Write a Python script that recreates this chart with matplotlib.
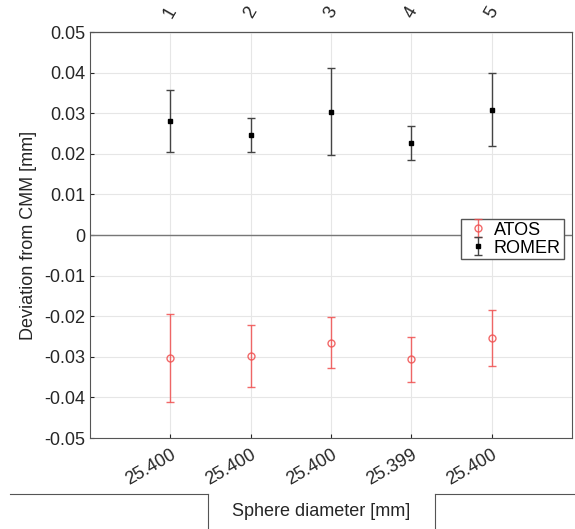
import matplotlib.pyplot as plt
from matplotlib.lines import Line2D

plt.rcParams['font.family'] = ['Liberation Sans', 'DejaVu Sans']

# Data
spheres = [1, 2, 3, 4, 5]
diameters = ["25.400", "25.400", "25.400", "25.399", "25.400"]
atos_mean = [-0.0303, -0.0298, -0.0265, -0.0306, -0.0253]
atos_err = [0.0109, 0.0076, 0.0062, 0.0056, 0.0069]
romer_mean = [0.0280, 0.0247, 0.0304, 0.0226, 0.0308]
romer_err = [0.0076, 0.0042, 0.0108, 0.0042, 0.0090]
yticks = [-0.05, -0.04, -0.03, -0.02, -0.01, 0, 0.01, 0.02, 0.03, 0.04, 0.05]

fig = plt.figure(figsize=(5.75, 5.29), dpi=100)
ax = fig.add_axes([0.1565, 0.172, 0.8385, 0.7675])

ax.axhline(0, color='#777777', linewidth=1, zorder=1)

ax.errorbar(spheres, atos_mean, yerr=atos_err, fmt='o', color='#f05050',
            markerfacecolor='none', markersize=5, capsize=3, elinewidth=1,
            linewidth=1, label="ATOS", alpha=0.85, zorder=3)
ax.errorbar(spheres, romer_mean, yerr=romer_err, fmt='s', color='black',
            ecolor='#444444', markersize=3.5, capsize=3, elinewidth=1,
            label="ROMER", zorder=3)

ax.set_xlim(0, 6)
ax.set_ylim(-0.05, 0.05)
ax.set_xticks(spheres)
ax.set_xticklabels(diameters, rotation=30, ha='right', rotation_mode='anchor')
ax.set_yticks(yticks)
ax.set_yticklabels(["%g" % v if v != 0 else "0" for v in yticks])
ax.grid(color='#e6e6e6', linewidth=0.8)
ax.set_axisbelow(True)
ax.tick_params(direction='in', length=3, labelsize=13, colors='#262626')
ax.tick_params(axis='x', pad=6)
for s in ax.spines.values():
    s.set_color('#555555')

ax.set_ylabel("Deviation from CMM [mm]", fontsize=13, color='#262626', labelpad=5)

top = ax.secondary_xaxis('top')
top.set_xticks(spheres)
top.set_xticklabels([str(s) for s in spheres], rotation=60, ha='center',
                    va='center')
top.tick_params(direction='in', length=0, pad=14, labelsize=13, colors='#262626')

# x label with boxed area
fig.text(0.558, 0.034, "Sphere diameter [mm]", ha='center', va='center',
         fontsize=13, color='#262626')
fig.add_artist(Line2D([10 / 575, 208 / 575], [1 - 494 / 529, 1 - 494 / 529],
                      color='#555555', linewidth=0.8))
fig.add_artist(Line2D([208 / 575, 208 / 575], [1 - 494 / 529, 0],
                      color='#555555', linewidth=0.8))
fig.add_artist(Line2D([435 / 575, 1], [1 - 494 / 529, 1 - 494 / 529],
                      color='#555555', linewidth=0.8))
fig.add_artist(Line2D([435 / 575, 435 / 575], [1 - 494 / 529, 0],
                      color='#555555', linewidth=0.8))

leg = ax.legend(loc='center right', bbox_to_anchor=(0.99, 0.49), fontsize=13,
                fancybox=False, framealpha=1, edgecolor='#555555',
                borderpad=0.15, handlelength=1.6, handletextpad=0.1,
                labelspacing=0.05, borderaxespad=0.2)

fig.savefig("out.png", dpi=100)
